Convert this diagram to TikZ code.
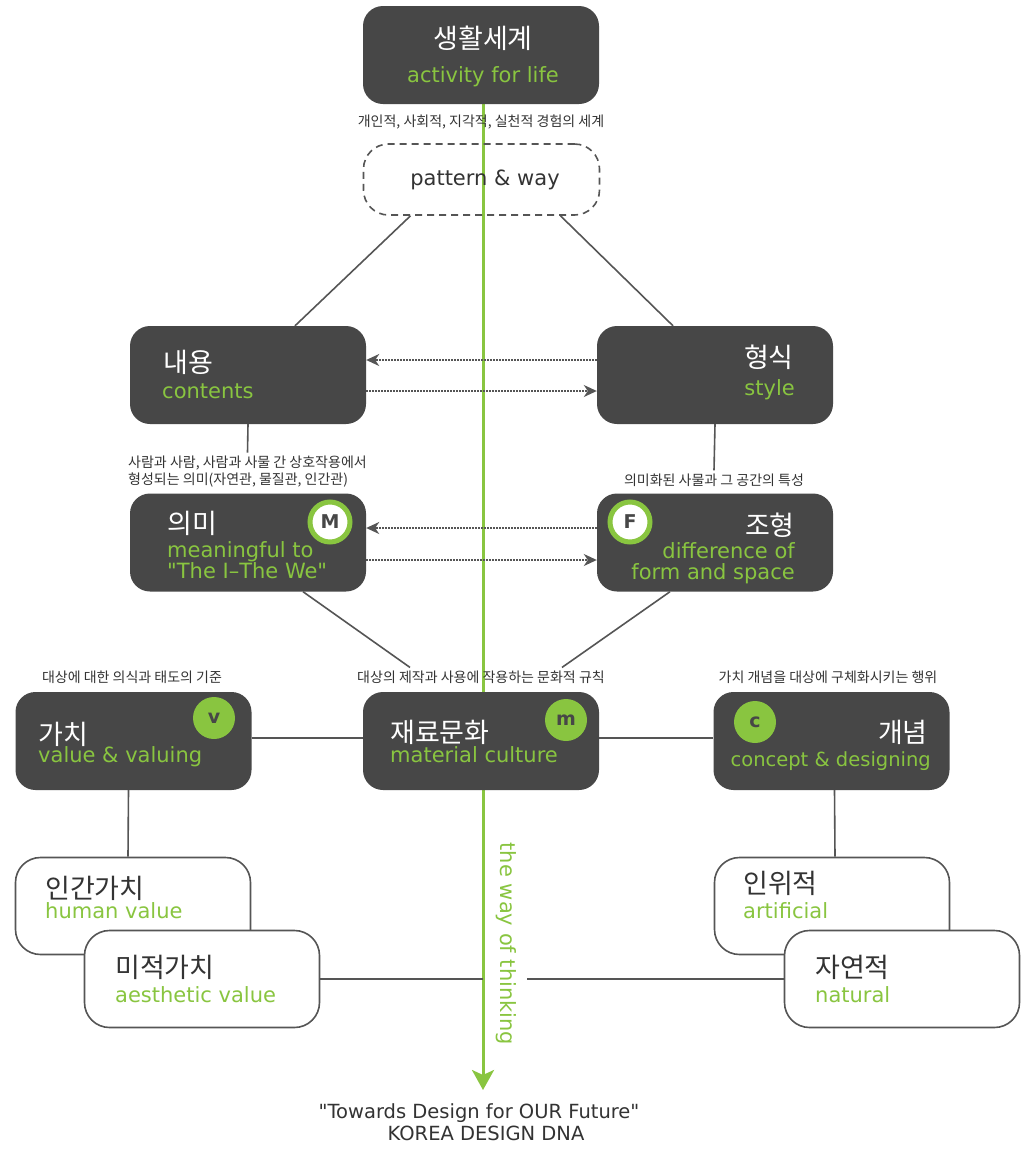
\documentclass[tikz,border=0pt]{standalone}
\usepackage{fontspec}
\setmainfont{DejaVu Sans}
\newfontfamily\kr{Noto Sans CJK KR}
\usetikzlibrary{arrows.meta}

\definecolor{boxgray}{RGB}{71,71,71}
\definecolor{wayGreen}{RGB}{137,197,64}
\definecolor{linegray}{RGB}{85,85,85}
\definecolor{textgray}{RGB}{51,51,51}

\begin{document}
\begin{tikzpicture}[x=1pt,y=-1pt,
    darkbox/.style={rectangle, rounded corners=20pt, fill=boxgray, minimum width=236pt, minimum height=98pt, inner sep=0pt},
    dashbox/.style={rectangle, rounded corners=25pt, draw=linegray, line width=1.6pt, dash pattern=on 7pt off 5pt, minimum width=236pt, minimum height=71pt, inner sep=0pt},
    litebox/.style={rectangle, rounded corners=25pt, draw=linegray, line width=1.6pt, fill=white, minimum width=235pt, minimum height=97pt, inner sep=0pt},
    krtitle/.style={font=\kr\fontsize{27}{30}\selectfont, text=white, inner sep=0pt},
    krdark/.style={krtitle, text=textgray},
    ensub/.style={font=\fontsize{21}{23}\selectfont, text=wayGreen, inner sep=0pt},
    note/.style={font=\kr\fontsize{14}{17}\selectfont, text=textgray, inner sep=3pt},
    ringbadge/.style={circle, draw=wayGreen, line width=5pt, fill=white, minimum size=40pt, inner sep=0pt, font=\bfseries\fontsize{19}{19}\selectfont, text=boxgray},
    dotbadge/.style={circle, fill=wayGreen, minimum size=42pt, inner sep=0pt, font=\bfseries\fontsize{19}{19}\selectfont, text=boxgray},
    link/.style={draw=linegray, line width=1.6pt},
    dotarrow/.style={draw=linegray, line width=1.6pt, dash pattern=on 1.6pt off 1.4pt, -{Stealth[length=13pt,width=12pt,inset=4pt]}},
    way/.style={draw=wayGreen, line width=3pt, -{Stealth[length=20pt,width=22pt,inset=5pt]}}]

  \path[fill=white, use as bounding box] (0,0) rectangle (1026,1157);

  \coordinate (wayStart) at (483,103);
  \coordinate (wayEnd) at (483,1090);
  \draw[way] (wayStart) -- (wayEnd);
  \node[ensub, rotate=-90] (wayText) at (506,944) {the way of thinking};

  \node[note] (noteLife) at (481,122) {개인적, 사회적, 지각적, 실천적 경험의 세계};
  \node[note, align=left] (noteM) at (247.5,471.5) {사람과 사람, 사람과 사물 간 상호작용에서\\형성되는 의미(자연관, 물질관, 인간관)};
  \node[note] (noteF) at (714,480) {의미화된 사물과 그 공간의 특성};
  \node[note] (noteV) at (132,677) {대상에 대한 의식과 태도의 기준};
  \node[note] (noteMat) at (481,677) {대상의 제작과 사용에 작용하는 문화적 규칙};
  \node[note] (noteC) at (828,677) {가치 개념을 대상에 구체화시키는 행위};

  \node[darkbox] (life) at (481,55) {};
  \node[dashbox] (pattern) at (481.5,179.5) {};
  \node[darkbox] (content) at (248,375) {};
  \node[darkbox] (form) at (715,375) {};
  \node[darkbox] (meaning) at (248,542.5) {};
  \node[darkbox] (shape) at (715,542.5) {};
  \node[darkbox] (value) at (133.5,741) {};
  \node[darkbox] (material) at (481,741) {};
  \node[darkbox] (concept) at (831.5,741) {};
  \node[litebox] (human) at (133,906) {};
  \node[litebox] (aesthetic) at (202,979) {};
  \node[litebox] (artificial) at (832,906) {};
  \node[litebox] (natural) at (902,979) {};

  \coordinate (gapL) at (483,979);
  \coordinate (gapR) at (527,979);

  \draw[link] ([xshift=-71pt]pattern.south) -- ([xshift=47pt]content.north);
  \draw[link] ([xshift=79pt]pattern.south) -- ([xshift=-42pt]form.north);
  \draw[link] (content.south) -- (noteM.north);
  \draw[link] (form.south) -- (noteF.north);
  \draw[link] ([xshift=55pt]meaning.south) -- ([xshift=-71pt]noteMat.north);
  \draw[link] ([xshift=-45pt]shape.south) -- ([xshift=81pt]noteMat.north);
  \draw[link] ([yshift=3pt]value.east) -- ([yshift=3pt]material.west);
  \draw[link] ([yshift=3pt]material.east) -- ([yshift=3pt]concept.west);
  \draw[link] ([xshift=-5pt]value.south) -- ([xshift=-5pt]human.north);
  \draw[link] ([xshift=3pt]concept.south) -- ([xshift=3pt]artificial.north);
  \draw[link] (aesthetic.east) -- (gapL);
  \draw[link] (gapR) -- (natural.west);

  \draw[dotarrow] ([yshift=15pt]form.west) -- ([yshift=15pt]content.east);
  \draw[dotarrow] ([yshift=-16pt]content.east) -- ([yshift=-16pt]form.west);
  \draw[dotarrow] ([yshift=14.5pt]shape.west) -- ([yshift=14.5pt]meaning.east);
  \draw[dotarrow] ([yshift=-17.5pt]meaning.east) -- ([yshift=-17.5pt]shape.west);

  \node[krtitle] (lifeKr) at (483,38) {생활세계};
  \node[ensub, anchor=base] (lifeEn) at (483,82) {activity for life};
  \node[font=\fontsize{21}{23}\selectfont, text=textgray, anchor=base, inner sep=0pt] (patternEn) at (485,185) {pattern \& way};

  \node[krtitle, anchor=west] (contentKr) at (163,362) {내용};
  \node[ensub, anchor=base west] (contentEn) at (162,398) {contents};
  \node[krtitle, anchor=east] (formKr) at (794,357) {형식};
  \node[ensub, anchor=base east] (formEn) at (795,395) {style};

  \node[krtitle, anchor=west] (meaningKr) at (167,523) {의미};
  \node[ensub, anchor=base west] (meaningEnA) at (167,557) {meaningful to};
  \node[ensub, anchor=base west] (meaningEnB) at (167,578) {\textquotedbl The I–The We\textquotedbl};
  \node[ringbadge] (badgeM) at (330,522) {M};
  \node[krtitle, anchor=east] (shapeKr) at (795,525) {조형};
  \node[ensub, anchor=base east] (shapeEnA) at (795,558) {difference of};
  \node[ensub, anchor=base east] (shapeEnB) at (795,579) {form and space};
  \node[ringbadge] (badgeF) at (630,522) {F};

  \node[krtitle, anchor=west] (valueKr) at (38,734) {가치};
  \node[ensub, anchor=base west] (valueEn) at (38,762) {value \& valuing};
  \node[dotbadge] (badgeV) at (214,718) {v};
  \node[krtitle, anchor=west] (materialKr) at (390,732) {재료문화};
  \node[ensub, anchor=base west] (materialEn) at (390,762) {material culture};
  \node[dotbadge] (badgeMat) at (566,720) {m};
  \node[krtitle, anchor=east] (conceptKr) at (928,732) {개념};
  \node[ensub, font=\fontsize{19.5}{22}\selectfont, anchor=base east] (conceptEn) at (931,766) {concept \& designing};
  \node[dotbadge] (badgeC) at (755,722) {c};

  \node[krdark, anchor=west] (humanKr) at (45,888) {인간가치};
  \node[ensub, anchor=base west] (humanEn) at (45,918) {human value};
  \node[krdark, anchor=west] (aestheticKr) at (115,967) {미적가치};
  \node[ensub, anchor=base west] (aestheticEn) at (115,1002) {aesthetic value};
  \node[krdark, anchor=west] (artificialKr) at (743,883) {인위적};
  \node[ensub, anchor=base west] (artificialEn) at (743,918) {artificial};
  \node[krdark, anchor=west] (naturalKr) at (815,967) {자연적};
  \node[ensub, anchor=base west] (naturalEn) at (815,1002) {natural};

  \node[font=\fontsize{19.5}{22}\selectfont, text=textgray, anchor=base, inner sep=0pt] (motto) at (479,1118) {\textquotedbl Towards Design for OUR Future\textquotedbl};
  \node[font=\fontsize{19.5}{22}\selectfont, text=textgray, anchor=base, inner sep=0pt] (dna) at (486,1140) {KOREA DESIGN DNA};
\end{tikzpicture}
\end{document}
